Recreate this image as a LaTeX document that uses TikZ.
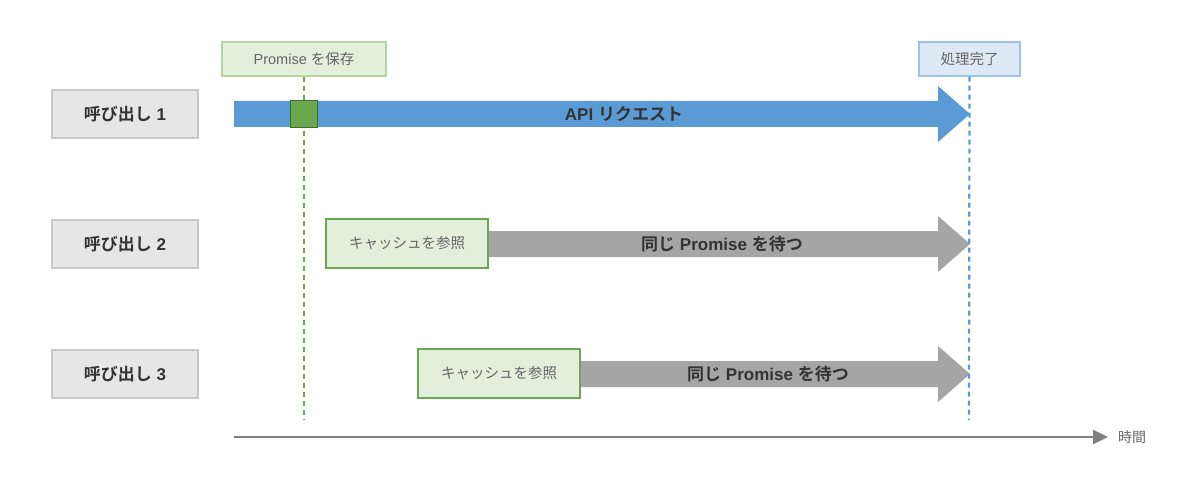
\documentclass[tikz,border=0pt]{standalone}
\usepackage{fontspec}
\setmainfont{Liberation Sans}
\newfontfamily\jp{Noto Sans CJK JP}[BoldFont={Noto Sans CJK JP Bold}]
\usetikzlibrary{arrows.meta}
\definecolor{boxgray}{HTML}{E6E6E6}
\definecolor{boxline}{HTML}{C8C8C8}
\definecolor{txtdark}{HTML}{333333}
\definecolor{txtmid}{HTML}{666666}
\definecolor{lgreen}{HTML}{E2EFDA}
\definecolor{lgreenline}{HTML}{B4D69E}
\definecolor{green}{HTML}{6AA84F}
\definecolor{dgreen}{HTML}{3F6E23}
\definecolor{lblue}{HTML}{DDE9F5}
\definecolor{lblueline}{HTML}{9DC3E6}
\definecolor{blue}{HTML}{5B9BD5}
\definecolor{arrgray}{HTML}{A5A5A5}
\definecolor{axisgray}{HTML}{808080}
\begin{document}
\begin{tikzpicture}[x=1pt,y=-1pt,
  callbox/.style={draw=boxline, fill=boxgray, line width=1.2pt, minimum width=146pt, minimum height=48pt,
    inner sep=0pt, text=txtdark, font=\bfseries\fontsize{17}{20}\selectfont},
  tagbox/.style={line width=1.2pt, minimum height=34pt, inner sep=0pt, text=txtmid,
    font=\fontsize{14.5}{17}\selectfont},
  cachebox/.style={draw=green, fill=lgreen, line width=2pt, minimum width=162pt, minimum height=49pt,
    inner sep=0pt, text=txtmid, font=\fontsize{14.5}{17}\selectfont},
  arrlabel/.style={text=txtdark, font=\bfseries\fontsize{17}{20}\selectfont, inner sep=0pt},
  vdash/.style={line width=2.2pt, dash pattern=on 5pt off 4pt},
  axisline/.style={draw=axisgray, line width=2.4pt, -{Triangle[length=15pt,width=14pt]}}
]
\useasboundingbox (0,0) rectangle (1200,500);

% left call boxes
\node[callbox] (c1) at (125,114) {{\jp 呼び出し} 1};
\node[callbox] (c2) at (125,244) {{\jp 呼び出し} 2};
\node[callbox] (c3) at (125,374) {{\jp 呼び出し} 3};

% top tags
\node[tagbox, draw=lgreenline, fill=lgreen, minimum width=164pt] (save) at (304,59) {Promise {\jp を保存}};
\node[tagbox, draw=lblueline, fill=lblue, minimum width=101pt] (done) at (969.5,59) {\jp 処理完了};

% block arrows
\fill[blue] (234,101) -- (938,101) -- (938,86) -- (970,114) -- (938,142) -- (938,127) -- (234,127) -- cycle;
\node[cachebox] (k2) at (407,243.5) {\jp キャッシュを参照};
\node[cachebox] (k3) at (499,373.5) {\jp キャッシュを参照};
\fill[arrgray] (k2.east |- 0,231) -- (938,231) -- (938,216) -- (970,244) -- (938,272) -- (938,257) -- (k2.east |- 0,257) -- cycle;
\fill[arrgray] (k3.east |- 0,361) -- (938,361) -- (938,346) -- (970,374) -- (938,402) -- (938,387) -- (k3.east |- 0,387) -- cycle;

\node[arrlabel] (l1) at (624,114) {API {\jp リクエスト}};
\node[arrlabel] (l2) at (722,244) {{\jp 同じ} Promise {\jp を待つ}};
\node[arrlabel] (l3) at (768,374) {{\jp 同じ} Promise {\jp を待つ}};

% dashed time markers
\coordinate (gend) at (304,420);
\coordinate (bend) at (969,420);
\draw[vdash, draw=green] (save.south) -- (gend);
\draw[vdash, draw=blue] (done.south) -- (bend);

% green square marker
\node[draw=dgreen, fill=green, line width=1.5pt, minimum size=27pt, inner sep=0pt] (sq) at (304,114) {};

% time axis
\coordinate (ax0) at (234,437);
\node[text=txtmid, font=\fontsize{14}{17}\selectfont, inner sep=0pt] (time) at (1132,437) {\jp 時間};
\draw[axisline] (ax0) -- (1108,437);
\end{tikzpicture}
\end{document}
